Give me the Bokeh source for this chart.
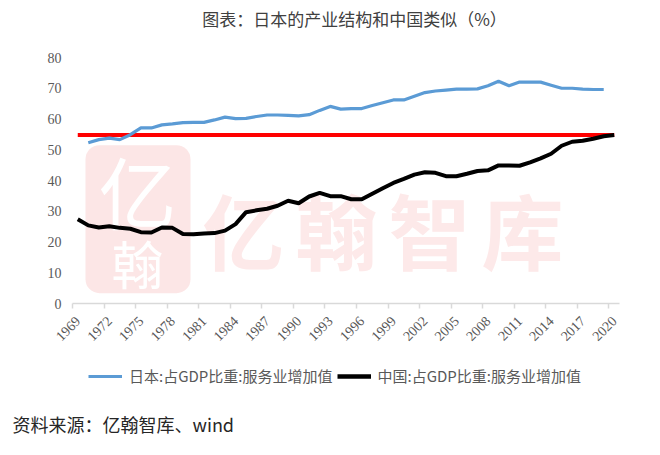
import math
from bokeh.plotting import figure
from bokeh.layouts import column
from bokeh.models import (Range1d, FixedTicker, Label, Legend, LegendItem,
                          BoxAnnotation, ColumnDataSource)
from bokeh.embed import file_html
from bokeh.resources import INLINE

# ---------------- data ----------------
years = list(range(1969, 2021))
japan = [float("nan"),
         52.3, 53.3, 53.8, 53.3, 54.9, 57.1, 57.1, 58.1, 58.4, 58.8,
         58.9, 58.9, 59.7, 60.6, 60.1, 60.2, 60.8, 61.3, 61.3, 61.2,
         61.0, 61.4, 62.8, 64.1, 63.2, 63.4, 63.4, 64.4, 65.3, 66.2,
         66.2, 67.4, 68.6, 69.1, 69.4, 69.7, 69.7, 69.8, 70.8, 72.3,
         70.8, 72.0, 72.0, 72.0, 71.0, 70.0, 70.0, 69.7, 69.6, 69.6,
         float("nan")]
china = [27.4, 25.4, 24.7, 25.1, 24.6, 24.3, 23.2, 23.1, 24.7, 24.6,
         22.6, 22.5, 22.8, 22.9, 23.7, 25.8, 29.7, 30.3, 30.8, 31.8,
         33.4, 32.6, 34.8, 36.0, 34.9, 34.9, 33.9, 33.9, 35.7, 37.5,
         39.2, 40.5, 41.9, 42.7, 42.5, 41.4, 41.4, 42.2, 43.1, 43.3,
         44.9, 44.9, 44.8, 45.9, 47.2, 48.7, 51.3, 52.6, 52.9, 53.6,
         54.4, 54.8]
ref_years = [1969, 2020]
ref_values = [54.8, 54.8]
x_tick_years = [1969, 1972, 1975, 1978, 1981, 1984, 1987, 1990, 1993,
                1996, 1999, 2002, 2005, 2008, 2011, 2014, 2017, 2020]
y_ticks = [0, 10, 20, 30, 40, 50, 60, 70, 80]
title_text = "图表：日本的产业结构和中国类似（%）"
japan_label = "日本:占GDP比重:服务业增加值"
china_label = "中国:占GDP比重:服务业增加值"
source_text = "资料来源：亿翰智库、wind"
watermark_chars = ["亿", "翰", "智", "库"]

CJK = "Noto Sans CJK SC"
NUM = "Liberation Serif"
BLUE, BLACK, RED = "#5b9bd5", "#000000", "#ff0000"


def bare_fig(h):
    f = figure(width=660, height=h, output_backend="svg", toolbar_location=None,
               x_range=Range1d(0, 660), y_range=Range1d(0, h),
               x_axis_location=None, y_axis_location=None,
               min_border=0, min_border_left=0, min_border_right=0,
               min_border_top=0, min_border_bottom=0, frame_align=False)
    f.outline_line_color = None
    f.xgrid.visible = False
    f.ygrid.visible = False
    f.background_fill_color = "white"
    f.border_fill_color = "white"
    return f


# ---------------- title strip (canvas y 0..36) ----------------
TOP_H = 36
p_top = bare_fig(TOP_H)
p_top.add_layout(Label(x=354, y=TOP_H - 18, x_units="screen", y_units="screen",
                       text=title_text, text_font=CJK, text_font_size="17px",
                       text_color="#404040", text_align="center",
                       text_baseline="middle"))

# ---------------- main chart (canvas y 36..360) ----------------
MAIN_H = 324
src = ColumnDataSource(dict(year=years, japan=japan, china=china))
p = figure(width=660, height=MAIN_H, output_backend="svg", toolbar_location=None,
           x_range=Range1d(1968.5, 2020.5), y_range=Range1d(0, 80),
           min_border_left=72, min_border_right=41,
           min_border_top=21, min_border_bottom=57, frame_align=False)
p.outline_line_color = None
p.xgrid.visible = False
p.ygrid.visible = False
p.background_fill_color = "white"
p.border_fill_color = "white"

# watermark (underlay), positioned relative to the frame in screen px
FL = 72.0      # frame left (canvas)
FB = 303.3     # frame bottom (canvas)
wm_color = "#fde9e9"
p.add_layout(BoxAnnotation(left=85 - FL, right=190 - FL, bottom=FB - 293,
                           top=FB - 145, left_units="screen",
                           right_units="screen", bottom_units="screen",
                           top_units="screen", fill_color="#fce6e6",
                           fill_alpha=1.0, line_color=None, border_radius=14,
                           level="underlay"))
p.add_layout(Label(x=137 - FL, y=FB - 190, x_units="screen", y_units="screen",
                   text="亿", text_font=CJK, text_font_size="78px",
                   text_color="white", text_align="center",
                   text_baseline="middle", level="underlay"))
p.add_layout(Label(x=137 - FL, y=FB - 262, x_units="screen", y_units="screen",
                   text="翰", text_font=CJK, text_font_size="52px",
                   text_color="white", text_align="center",
                   text_baseline="middle", level="underlay"))
for i, ch in enumerate(watermark_chars):
    p.add_layout(Label(x=243 + 93 * i - FL, y=FB - 228,
                       x_units="screen", y_units="screen",
                       text=ch, text_font=CJK, text_font_size="82px",
                       text_font_style="bold", text_color=wm_color,
                       text_align="center", text_baseline="middle",
                       level="underlay"))

p.line(ref_years, ref_values, line_color=RED, line_width=4)
p.line("year", "japan", source=src, line_color=BLUE, line_width=3.2)
p.line("year", "china", source=src, line_color=BLACK, line_width=4)

xa = p.xaxis[0]
xa.ticker = FixedTicker(ticks=x_tick_years,
                        minor_ticks=[y - 0.5 for y in x_tick_years])
xa.axis_line_color = "#d9d9d9"
xa.axis_line_width = 1.5
xa.major_tick_line_color = None
xa.major_tick_out = 0
xa.major_tick_in = 0
xa.minor_tick_line_color = "#d9d9d9"
xa.minor_tick_line_width = 1.5
xa.minor_tick_out = 5
xa.minor_tick_in = 0
xa.major_label_orientation = math.pi / 4
xa.major_label_standoff = 10
xa.major_label_text_font = NUM
xa.major_label_text_font_size = "14px"
xa.major_label_text_color = "#595959"

ya = p.yaxis[0]
ya.ticker = FixedTicker(ticks=y_ticks)
ya.axis_line_color = None
ya.major_tick_line_color = None
ya.minor_tick_line_color = None
ya.major_tick_out = 0
ya.major_tick_in = 0
ya.major_label_standoff = 11
ya.major_label_text_font = NUM
ya.major_label_text_font_size = "14px"
ya.major_label_text_color = "#595959"

# ---------------- legend + source strip (canvas y 360..455) ----------------
BOT_H = 95
p_bot = bare_fig(BOT_H)
nan = float("nan")
lj = p_bot.line(x=[nan], y=[nan], line_color=BLUE, line_width=3.2)
lc = p_bot.line(x=[nan], y=[nan], line_color=BLACK, line_width=4.5)
legend = Legend(items=[LegendItem(label=japan_label, renderers=[lj]),
                       LegendItem(label=china_label, renderers=[lc])],
                orientation="horizontal", location=(88, BOT_H - 18 - 8),
                glyph_width=34, glyph_height=16, label_height=16,
                label_standoff=7, spacing=4, padding=0, margin=0,
                border_line_color=None, background_fill_alpha=0.0,
                label_text_font=CJK, label_text_font_size="15px",
                label_text_color="#595959")
p_bot.add_layout(legend, "center")
p_bot.add_layout(Label(x=12, y=BOT_H - 63, x_units="screen", y_units="screen",
                       text=source_text, text_font=CJK, text_font_size="18px",
                       text_color="#262626", text_align="left",
                       text_baseline="middle"))

layout = column(p_top, p, p_bot, spacing=0)
open("out.html", "w").write(file_html(layout, INLINE))
